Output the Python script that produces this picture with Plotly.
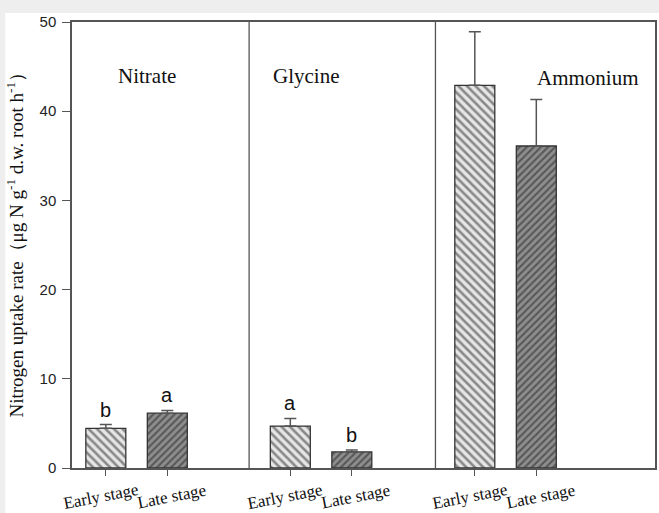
import plotly.graph_objects as go

# ---- data ----
groups = ["Nitrate", "Glycine", "Ammonium"]
stages = ["Early stage", "Late stage"]
early_vals = [4.45, 4.7, 42.9]
late_vals = [6.15, 1.8, 36.1]
early_err = [0.42, 0.85, 6.0]
late_err = [0.3, 0.22, 5.2]
early_letters = ["b", "a", ""]
late_letters = ["a", "b", ""]
y_ticks = [0, 10, 20, 30, 40, 50]

# positions (layout only)
early_x = [1, 4, 7]
late_x = [2, 5, 8]
dividers = [3.33, 6.36]
group_label_x = [1.67, 4.25, 8.84]
group_label_y = [43.9, 43.9, 43.7]

serif = "Liberation Serif"
sans = "Liberation Sans"
line_col = "#555555"

fig = go.Figure()
fig.add_trace(go.Bar(
    x=early_x, y=early_vals, width=0.65, name=stages[0],
    marker=dict(color="#e6e6e6", line=dict(color="#333333", width=1.3),
                pattern=dict(shape="\\", size=6, solidity=0.42,
                             fgcolor="#2a2a2a", bgcolor="#e6e6e6")),
    error_y=dict(type="data", symmetric=False, array=early_err,
                 arrayminus=[0] * len(early_err), color=line_col,
                 thickness=1.5, width=6),
))
fig.add_trace(go.Bar(
    x=late_x, y=late_vals, width=0.65, name=stages[1],
    marker=dict(color="#8e8e8e", line=dict(color="#333333", width=1.3),
                pattern=dict(shape="/", size=5, solidity=0.42,
                             fgcolor="#222222", bgcolor="#8e8e8e")),
    error_y=dict(type="data", symmetric=False, array=late_err,
                 arrayminus=[0] * len(late_err), color=line_col,
                 thickness=1.5, width=6),
))

annotations = []
# significance letters
for xs, vals, errs, letters in [(early_x, early_vals, early_err, early_letters),
                                (late_x, late_vals, late_err, late_letters)]:
    for x, v, e, t in zip(xs, vals, errs, letters):
        if t:
            annotations.append(dict(x=x, y=v + e, text=t, showarrow=False,
                                    yanchor="bottom", yshift=2,
                                    font=dict(family=sans, size=20, color="#111")))
# group labels
for g, gx, gy in zip(groups, group_label_x, group_label_y):
    annotations.append(dict(x=gx, y=gy, text=g, showarrow=False,
                            font=dict(family=serif, size=21, color="#111")))
# x tick labels (slightly rotated)
for xs, label, dx in [(early_x, stages[0], -5), (late_x, stages[1], 4)]:
    for x in xs:
        annotations.append(dict(x=x, y=0, text=label, showarrow=False,
                                textangle=-11, yanchor="top", yshift=-10,
                                xshift=dx,
                                font=dict(family=serif, size=17, color="#111")))
# y axis title
annotations.append(dict(xref="paper", yref="paper", x=-0.097, y=0.511,
                        xanchor="center", yanchor="middle",
                        text="Nitrogen uptake rate（μg N g<sup>-1</sup> d.w. root h<sup>-1</sup>）",
                        textangle=-90, showarrow=False,
                        font=dict(family=serif, size=19, color="#111")))

shapes = [
    # white card on gray page
    dict(type="rect", xref="paper", yref="paper", x0=-0.1145, x1=1.01,
         y0=-0.11, y1=1.0202, fillcolor="white", line=dict(width=0),
         layer="below"),
]
for d in dividers:
    shapes.append(dict(type="line", xref="x", yref="paper", x0=d, x1=d,
                       y0=0, y1=1, line=dict(color=line_col, width=1.3)))

fig.update_layout(
    width=659, height=513,
    margin=dict(l=72, r=2, t=22, b=45),
    paper_bgcolor="#eeeeee", plot_bgcolor="white",
    showlegend=False, barmode="overlay",
    annotations=annotations, shapes=shapes,
    xaxis=dict(range=[0.45, 9.93], showgrid=False, zeroline=False,
               showticklabels=False, tickvals=early_x + late_x,
               ticks="outside", ticklen=6, tickcolor=line_col,
               showline=True, mirror=True, linecolor=line_col, linewidth=1.5),
    yaxis=dict(range=[0, 50], tickvals=y_ticks, showgrid=False, zeroline=False,
               ticks="outside", ticklen=8, tickcolor=line_col,
               ticklabelstandoff=3,
               tickfont=dict(family=sans, size=15, color="#222"),
               showline=True, mirror=True, linecolor=line_col, linewidth=1.5),
)

fig.write_html(
    "out.html",
    config={"displayModeBar": False},
    post_script="document.body.style.margin='0';document.body.style.padding='0';"
                "document.body.style.background='#eeeeee';",
)
